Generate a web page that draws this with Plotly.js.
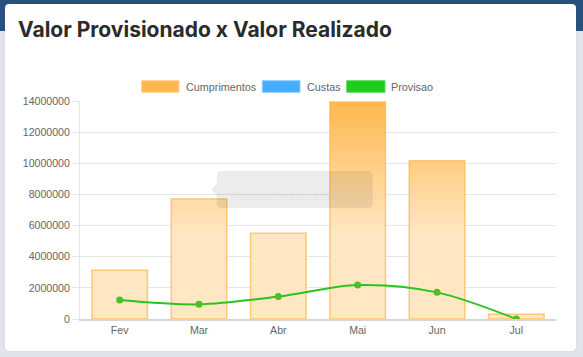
<!DOCTYPE html>
<html>
<head>
<meta charset="utf-8">
<script src="https://cdn.plot.ly/plotly-3.0.1.min.js"></script>
<style>
  html, body { margin:0; padding:0; width:583px; height:357px; overflow:hidden; background:#e3e4e9; }
  #band { position:absolute; left:0; top:0; width:583px; height:31px; background:#27507d; }
  #card { position:absolute; left:5px; top:4px; width:571px; height:347px; background:#fff; border-radius:4px; box-shadow:0 0 1px rgba(0,0,0,0.25); }
  #chart { position:absolute; left:0; top:0; width:583px; height:357px; }
</style>
</head>
<body>
<div id="band"></div>
<div id="card"></div>
<div id="chart"></div>
<script>
// ---- data ----
var categories = ['Fev', 'Mar', 'Abr', 'Mai', 'Jun', 'Jul'];
var cumprimentos = [3130000, 7710000, 5500000, 13940000, 10170000, 300000];
var custas = [0, 0, 0, 0, 0, 0];
var provisao = [1220000, 940000, 1440000, 2180000, 1710000, 0];
var legendLabels = ['Cumprimentos', 'Custas', 'Provisao'];
var tooltipText = 'Cumprimentos: 13942941.74';

// ---- geometry helpers (pixel -> paper) ----
var W = 583, H = 357, L = 80, R = 27, T = 101, B = 38;
var PW = W - L - R, PH = H - T - B;
function px(x) { return (x - L) / PW; }
function py(y) { return (H - B - y) / PH; }

var idx = categories.map(function (c, i) { return i; });
var barW = 0.7;
var tickFontSize = 10.6;

// gradient overlay polygons built from the bar data
var gx = [], gy = [];
cumprimentos.forEach(function (v, i) {
  var a = i - barW / 2, b = i + barW / 2;
  gx.push(a, b, b, a, a, null);
  gy.push(0, 0, v, v, 0, null);
});

var traces = [
  {
    type: 'bar', name: legendLabels[0], x: idx, y: cumprimentos, width: barW,
    marker: { color: '#FFE7C3', line: { color: 'rgba(255,190,90,0.8)', width: 1.5 } },
    hoverinfo: 'y', showlegend: false
  },
  {
    type: 'bar', name: legendLabels[1], x: idx, y: custas, width: barW,
    marker: { color: '#45ADFF', line: { width: 0 } }, showlegend: false, hoverinfo: 'skip'
  },
  {
    type: 'scatter', mode: 'lines', x: gx, y: gy, fill: 'toself',
    line: { width: 0, color: 'rgba(0,0,0,0)' },
    fillgradient: {
      type: 'vertical', start: 5500000, stop: 14000000,
      colorscale: [[0, 'rgba(255,181,71,0)'], [1, 'rgba(255,181,71,0.95)']]
    },
    hoverinfo: 'skip', showlegend: false
  },
  {
    type: 'scatter', mode: 'lines+markers', name: legendLabels[2], x: idx, y: provisao,
    line: { color: '#2BC41D', width: 2, shape: 'spline', smoothing: 0.9 },
    marker: { color: '#4CBF26', size: 7 },
    showlegend: false
  }
];

// manual legend
var shapes = [], annotations = [];
var legendBoxes = [[141.7, 179], [262.3, 300], [346.7, 385]];
var legendText = [183.5, 304.5, 388.5];
var legendFill = ['#FFB74D', '#45ADFF', '#1DCC1D'];
var legendLine = ['#FFD08A', '#8CCBFF', '#5BD95B'];
legendBoxes.forEach(function (bx, i) {
  shapes.push({ type: 'rect', xref: 'paper', yref: 'paper', x0: px(bx[0]), x1: px(bx[1]), y0: py(92.3), y1: py(80.7),
    fillcolor: legendFill[i], line: { color: legendLine[i], width: 1 } });
  annotations.push({ xref: 'paper', yref: 'paper', x: px(legendText[i]), y: py(86.5), xanchor: 'left', yanchor: 'middle',
    text: legendLabels[i], showarrow: false, font: { family: 'Liberation Sans, Arial, sans-serif', size: 10.8, color: '#666' } });
});

// faded tooltip
var tx0 = px(216.7), tx1 = px(372.7), ty0 = py(208), ty1 = py(171);
var rx = 5 / PW, ry = 5 / PH;
var tipPath = 'M' + (tx0 + rx) + ',' + ty1 + ' L' + (tx1 - rx) + ',' + ty1 + ' Q' + tx1 + ',' + ty1 + ' ' + tx1 + ',' + (ty1 - ry) +
  ' L' + tx1 + ',' + (ty0 + ry) + ' Q' + tx1 + ',' + ty0 + ' ' + (tx1 - rx) + ',' + ty0 +
  ' L' + (tx0 + rx) + ',' + ty0 + ' Q' + tx0 + ',' + ty0 + ' ' + tx0 + ',' + (ty0 + ry) +
  ' L' + tx0 + ',' + py(195) + ' L' + px(211.5) + ',' + py(189.5) + ' L' + tx0 + ',' + py(184) +
  ' L' + tx0 + ',' + (ty1 - ry) + ' Q' + tx0 + ',' + ty1 + ' ' + (tx0 + rx) + ',' + ty1 + ' Z';
shapes.push({ type: 'path', xref: 'paper', yref: 'paper', path: tipPath, fillcolor: 'rgba(0,0,0,0.075)', line: { width: 0 }, layer: 'above' });
annotations.push({ xref: 'paper', yref: 'paper', x: px(233), y: py(196), xanchor: 'left', yanchor: 'middle', text: tooltipText,
  showarrow: false, font: { family: 'Liberation Sans, Arial, sans-serif', size: 11, color: 'rgba(200,200,200,0.15)' } });

var layout = {
  width: W, height: H,
  margin: { l: L, r: R, t: T, b: B, pad: 0 },
  paper_bgcolor: 'rgba(0,0,0,0)', plot_bgcolor: 'rgba(0,0,0,0)',
  showlegend: false, barmode: 'overlay',
  title: {
    text: 'Valor Provisionado x Valor Realizado',
    xref: 'container', yref: 'container', x: 18 / W, xanchor: 'left', y: 1 - 30 / H, yanchor: 'middle',
    font: { family: 'Inter, Open Sans, sans-serif', size: 21, color: '#2b2b2b', weight: 700 }
  },
  xaxis: {
    range: [-0.5, 5.5], tickvals: idx, ticktext: categories, showgrid: false, zeroline: false,
    showline: true, linecolor: '#d6d6d6', linewidth: 2, ticks: '',
    tickfont: { family: 'Liberation Sans, Arial, sans-serif', size: tickFontSize, color: '#666' }, fixedrange: true
  },
  yaxis: {
    range: [0, 14000000], dtick: 2000000, tickformat: 'd', showgrid: true, gridcolor: '#e6e6e6', gridwidth: 1,
    zeroline: false, showline: true, linecolor: '#e6e6e6', linewidth: 1,
    ticks: 'outside', ticklen: 7, tickcolor: '#e6e6e6', ticklabelstandoff: 0,
    tickfont: { family: 'Liberation Sans, Arial, sans-serif', size: tickFontSize, color: '#666' }, fixedrange: true
  },
  shapes: shapes, annotations: annotations,
  hovermode: false
};

Plotly.newPlot('chart', traces, layout, { displayModeBar: false, staticPlot: true });
</script>
</body>
</html>
